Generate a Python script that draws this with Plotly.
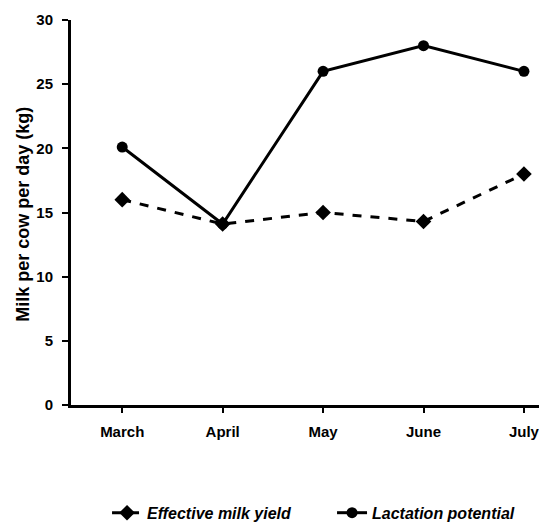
import plotly.graph_objects as go

months = ["March", "April", "May", "June", "July"]
effective_milk_yield = [16.0, 14.1, 15.0, 14.3, 18.0]
lactation_potential = [20.1, 14.1, 26.0, 28.0, 26.0]
y_ticks = [0, 5, 10, 15, 20, 25, 30]
y_title = "Milk per cow per day (kg)"

x_idx = list(range(len(months)))
FONT = "Liberation Sans, Arial, sans-serif"

fig = go.Figure()
fig.add_trace(go.Scatter(
    x=x_idx, y=effective_milk_yield, name="Effective milk yield",
    mode="lines+markers",
    line=dict(color="black", width=3, dash="dash"),
    marker=dict(symbol="diamond", size=12, color="black"),
))
fig.add_trace(go.Scatter(
    x=x_idx, y=lactation_potential, name="Lactation potential",
    mode="lines+markers",
    line=dict(color="black", width=3),
    marker=dict(symbol="circle", size=11, color="black"),
))

fig.add_annotation(
    text=y_title, textangle=-90, showarrow=False,
    xref="paper", yref="paper", x=-0.103, y=0.496,
    xanchor="center", yanchor="middle",
    font=dict(family=FONT, size=18, weight="bold", color="black"),
)

fig.update_layout(
    width=539, height=524,
    margin=dict(l=71, r=0, t=20, b=119, autoexpand=False),
    paper_bgcolor="white", plot_bgcolor="white",
    font=dict(family=FONT, color="black", size=13),
    showlegend=True,
    legend=dict(
        orientation="h", x=0.077, xanchor="left", y=-0.28, yanchor="middle",
        font=dict(family=FONT, size=16, style="italic", weight="bold"),
        entrywidth=180, entrywidthmode="pixels", tracegroupgap=0,
    ),
    xaxis=dict(
        tickvals=x_idx, ticktext=months, range=[-0.51, 4.15],
        showline=True, linecolor="black", linewidth=3,
        ticks="outside", ticklen=5, tickwidth=2, tickcolor="black",
        ticklabelstandoff=6, ticklabeloverflow="allow",
        showgrid=False, zeroline=False, automargin=False,
        tickfont=dict(family=FONT, size=15, weight="bold"),
    ),
    yaxis=dict(
        range=[0, 30], tickvals=y_ticks,
        showline=True, linecolor="black", linewidth=3,
        ticks="outside", ticklen=6, tickwidth=2, tickcolor="black",
        ticklabelstandoff=6,
        showgrid=False, zeroline=False, automargin=False,
        tickfont=dict(family=FONT, size=15, weight="bold"),
    ),
)

fig.write_html(
    "out.html",
    config={"displayModeBar": False},
    post_script="document.body.style.margin='0';document.body.style.padding='0';",
)
